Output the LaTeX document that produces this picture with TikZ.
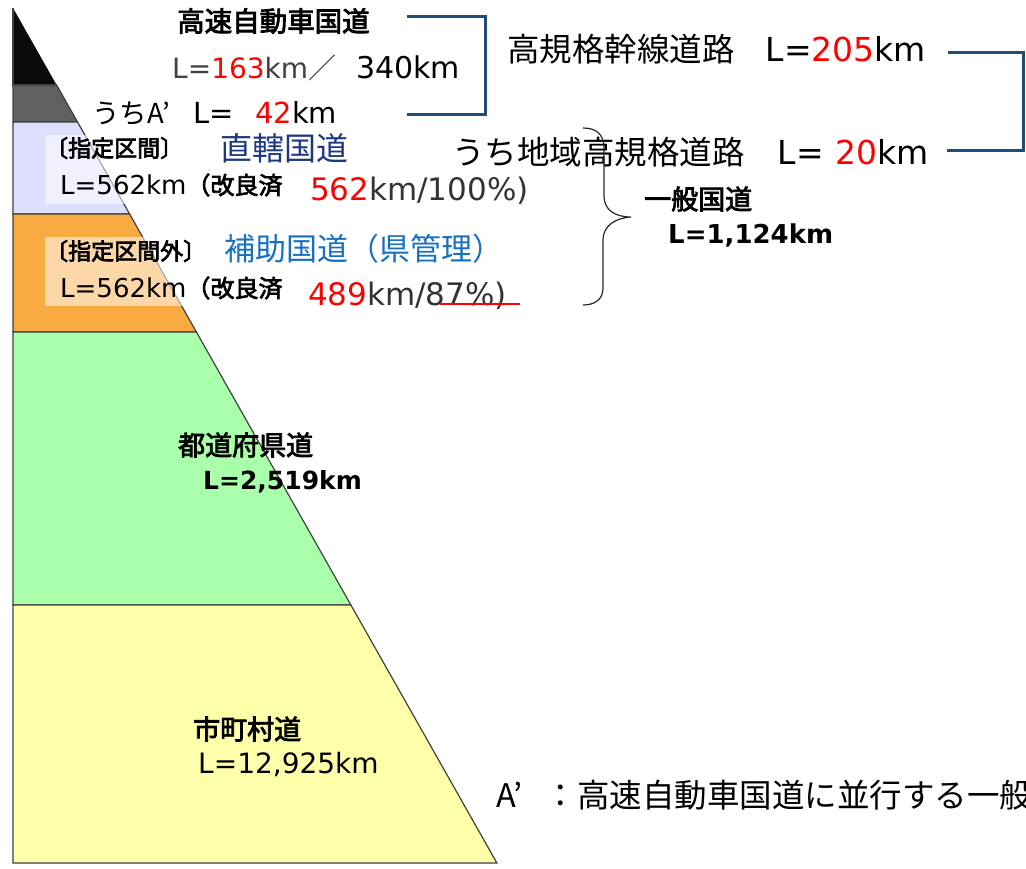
\documentclass[tikz,border=0pt]{standalone}
\usepackage{fontspec}
\setmainfont{DejaVu Sans}
\newfontfamily\jp{Noto Sans CJK JP}
\newfontfamily\jpb{Noto Sans CJK JP}[FakeBold=3]
\newcommand\sz[1]{\fontsize{#1}{#1}\selectfont}
\usepackage{tikz}
\definecolor{kmred}{RGB}{255,0,0}
\definecolor{bandBlack}{RGB}{10,10,10}
\definecolor{bandGray}{RGB}{96,96,96}
\definecolor{bandLav}{RGB}{222,222,255}
\definecolor{bandOrange}{RGB}{250,170,66}
\definecolor{bandGreen}{RGB}{170,255,170}
\definecolor{bandYellow}{RGB}{255,255,170}
\definecolor{blineBlue}{RGB}{31,78,121}
\definecolor{chokkatsuBlue}{RGB}{30,56,128}
\definecolor{hojoBlue}{RGB}{23,112,192}

\begin{document}
\begin{tikzpicture}[x=1pt,y=-1pt]
  \tikzstyle{txt}=[anchor=west,inner sep=0pt]
  \tikzstyle{band}=[draw=black!75,line width=1.2pt]
  \tikzstyle{bline}=[draw=blineBlue,line width=3pt]
  \tikzstyle{lightbox}=[fill=white,fill opacity=0.55]

  \useasboundingbox (0,0) rectangle (1026,868);

  % pyramid bands, hypotenuse x = 13 + 0.566 (y-8)
  \filldraw[band,fill=bandBlack]  (13,8)   -- (13,85)  -- (56.6,85);
  \filldraw[band,fill=bandGray]   (13,85)  -- (13,122) -- (77.5,122) -- (56.6,85) -- cycle;
  \filldraw[band,fill=bandLav]    (13,122) -- (13,214) -- (129.6,214) -- (77.5,122) -- cycle;
  \filldraw[band,fill=bandOrange] (13,214) -- (13,332) -- (196.4,332) -- (129.6,214) -- cycle;
  \filldraw[band,fill=bandGreen]  (13,332) -- (13,605) -- (350.9,605) -- (196.4,332) -- cycle;
  \filldraw[band,fill=bandYellow] (13,605) -- (13,863) -- (496.9,863) -- (350.9,605) -- cycle;
  \fill[lightbox] (45,135) rectangle (290,204);
  \fill[lightbox] (45,237) rectangle (290,306);

  \node[txt] (kousoku)  at (177,21)  {\jpb\sz{27.5}高速自動車国道};
  \node[txt] (kousokuL) at (172,68)  {\sz{28}\color{black!75}L=\textcolor{kmred}{163}km{\jp／}\hspace{20pt}\color{black}\sz{30}340km};
  \node[txt] (uchiA)    at (92,113)  {\jp\sz{27.5}うちA’\hspace{24pt}\rmfamily\sz{29}L=\hspace{21pt}\textcolor{kmred}{42}km};

  \node[txt] (kokikaku) at (507,49)  {\jp\sz{32.5}高規格幹線道路\rmfamily\hspace{31pt}\sz{33}L=\textcolor{kmred}{205}km};
  \node[txt] (chiiki)   at (452,152) {\jp\sz{32.5}うち地域高規格道路\rmfamily\hspace{33pt}\sz{33}L=\hspace{12pt}\textcolor{kmred}{20}km};

  \node[txt] (ippan)    at (644,199) {\jpb\sz{27}一般国道};
  \node[txt] (ippanL)   at (668,235) {\bfseries\sz{26}L=1,124km};

  \node[txt] (shitei)     at (45,148)  {\jpb\sz{23}〔指定区間〕};
  \node[txt,text=chokkatsuBlue] (chokkatsu) at (220,148) {\jp\sz{32}直轄国道};
  \node[txt] (chokkatsuL) at (60,185)  {\sz{26}L=562km\jpb\sz{24}（改良済};
  \node[txt] (chokkatsuR) at (310,191) {\sz{31}\textcolor{kmred}{562}\color{black!80}km/100\%)};

  \node[txt] (shiteigai)  at (45,251)  {\jpb\sz{23}〔指定区間外〕};
  \node[txt,text=hojoBlue] (hojo) at (224,249) {\jp\sz{31}補助国道（県管理）};
  \node[txt] (hojoL)      at (60,288)  {\sz{26}L=562km\jpb\sz{24}（改良済};
  \node[txt] (hojoR)      at (308,296) {\sz{31}\textcolor{kmred}{489}\color{black!80}km/87\%)};
  \draw[kmred,line width=2pt] (440,304) -- (520,304);

  \node[txt] (todofuken)  at (178,445) {\jpb\sz{27}都道府県道};
  \node[txt] (todofukenL) at (203,482) {\bfseries\sz{25}L=2,519km};
  \node[txt] (shichoson)  at (193,729) {\jpb\sz{27}市町村道};
  \node[txt] (shichosonL) at (198,764) {\sz{28}L=12,925km};

  \node[txt] (note) at (496,795) {\jp\sz{32.5}A’\hspace{22pt}：高速自動車国道に並行する一般};

  % brackets
  \coordinate (b1a) at (407,16);
  \coordinate (b1x) at (485,65);
  \coordinate (b1b) at (407,114);
  \draw[bline] (b1a) -| (b1x) |- (b1b);
  \coordinate (b2a) at (948,52);
  \coordinate (b2x) at (1023,100);
  \coordinate (b2b) at (947,150);
  \draw[bline] (b2a) -| (b2x) |- (b2b);

  % brace for ippan kokudo
  \coordinate (braceTop) at (583,128);
  \coordinate (braceTip) at (631,217);
  \coordinate (braceBot) at (583,305);
  \draw[black!85,line width=1.2pt] (braceTop) .. controls (596,128) and (604,134) .. (604,148)
    -- (604,196) .. controls (604,210) and (615,217) .. (braceTip)
    .. controls (615,218) and (603,226) .. (603,240)
    -- (603,288) .. controls (603,300) and (594,305) .. (braceBot);
\end{tikzpicture}
\end{document}
